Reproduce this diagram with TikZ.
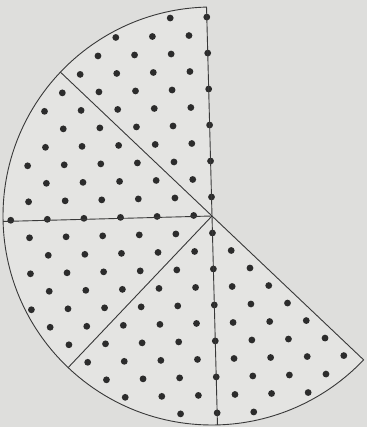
\documentclass[tikz,border=0pt]{standalone}
\begin{document}
\begin{tikzpicture}[x=1pt,y=1pt]
\definecolor{bg}{HTML}{DEDEDC}
\definecolor{secfill}{HTML}{E4E4E2}
\definecolor{ink}{HTML}{383838}
\definecolor{dotc}{HTML}{2C2C2C}
\tikzset{edge/.style={draw=ink,line width=0.9pt},
         dotmark/.style={fill=dotc}}
\useasboundingbox[fill=bg] (0,0) rectangle (367,427);
\coordinate (C) at (212,211);
\def\R{209}
\def\rot{1.5}
\foreach \a/\n in {91.5/t,136.5/ul,181.5/l,226.5/ll,271.5/b,316.5/r}
  \path (C) ++(\a:\R) coordinate (\n);
\fill[secfill] (C) -- (t) arc[start angle=91.5,end angle=316.5,radius=\R] -- cycle;
\begin{scope}[shift={(C)},rotate=\rot]
\foreach \i in {-12,...,11}{
  \foreach \j in {-13,...,13}{
    \pgfmathsetmacro\uu{18.3*\i}
    \pgfmathsetmacro\vv{-17+18*\j}
    \pgfmathsetmacro\rr{veclen(\uu/10,\vv/10)}
    \pgfmathsetmacro\ang{atan2(\vv,\uu)+\rot}
    \pgfmathtruncatemacro\ok{and(\rr<20.4,or(\ang<-43.5,\ang>89.5))*(1-mod(abs(\i+\j),2))}
    \ifnum\ok=1 \fill[dotmark] (\uu,\vv) circle (3.4pt);\fi
  }
}
\end{scope}
\draw[edge] (C) -- (t) arc[start angle=91.5,end angle=316.5,radius=\R] -- cycle;
\draw[edge] (C) -- (ul);
\draw[edge] (C) -- (l);
\draw[edge] (C) -- (ll);
\draw[edge] (C) -- (b);
\end{tikzpicture}
\end{document}
